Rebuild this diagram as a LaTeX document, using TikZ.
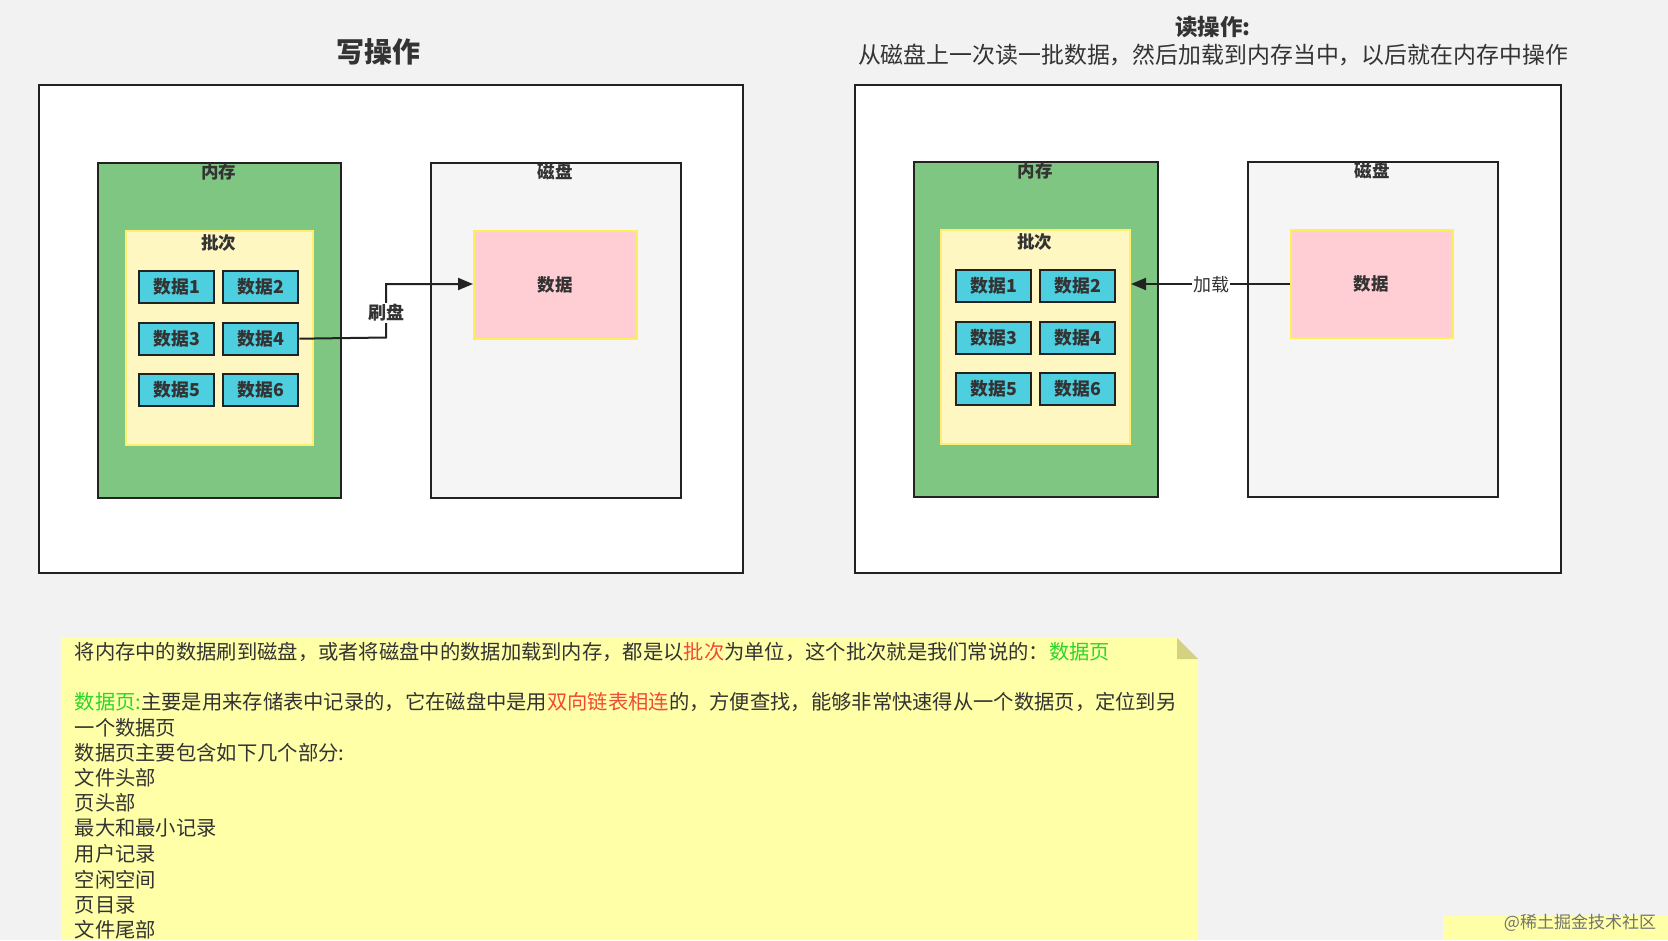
\documentclass[tikz,border=0pt]{standalone}
\usepackage{fontspec}
\setmainfont{Noto Sans CJK SC}
\usetikzlibrary{arrows.meta}
\definecolor{bg}{HTML}{F2F2F2}
\definecolor{ink}{HTML}{333333}
\definecolor{edge}{HTML}{222222}
\definecolor{memfill}{HTML}{80C683}
\definecolor{batchfill}{HTML}{FFF7C2}
\definecolor{batchedge}{HTML}{FFEE70}
\definecolor{datafill}{HTML}{4ECFE0}
\definecolor{diskfill}{HTML}{F5F5F5}
\definecolor{pinkfill}{HTML}{FFCDD4}
\definecolor{pinkedge}{HTML}{FFEE58}
\definecolor{notefill}{HTML}{FFFFA8}
\definecolor{notefold}{HTML}{D2D282}
\definecolor{txtred}{HTML}{F04A3A}
\definecolor{txtgreen}{HTML}{2BD62B}
\tikzset{
  panel/.style={draw=edge, line width=2pt, fill=white, anchor=north west, inner sep=0pt},
  membox/.style={draw=edge, line width=2.4pt, fill=memfill, anchor=north west, inner sep=0pt},
  diskbox/.style={draw=edge, line width=2.4pt, fill=diskfill, anchor=north west, inner sep=0pt},
  batchbox/.style={draw=batchedge, line width=2pt, fill=batchfill, anchor=north west, inner sep=0pt},
  pinkbox/.style={draw=pinkedge, line width=2pt, fill=pinkfill, anchor=north west, inner sep=0pt},
  databox/.style={draw=edge, line width=2.4pt, fill=datafill, anchor=north west, inner sep=0pt,
     minimum width=75pt, minimum height=32pt, text=ink, font=\bfseries\fontsize{17.8}{17.8}\selectfont},
  boxtitle/.style={text=ink, font=\bfseries\fontsize{17.5}{17.5}\selectfont, inner sep=0pt},
  conn/.style={draw=edge, line width=2pt, line join=miter, -{Triangle[length=15pt,width=12pt]}},
  bodytext/.style={anchor=west, text=ink, inner sep=0pt, font=\fontsize{20.3}{20.3}\selectfont},
}
\begin{document}
\begin{tikzpicture}[x=1pt,y=-1pt]
\fill[bg] (0,0) rectangle (1668,940);
\useasboundingbox (0,0) rectangle (1668,940);

% ---------------- titles ----------------
\node[text=ink, font=\bfseries\fontsize{28}{28}\selectfont, inner sep=0pt] (wtitle) at (378,52) {写操作};
\node[text=ink, font=\bfseries\fontsize{22.5}{22.5}\selectfont, inner sep=0pt] (rtitle) at (1213,27) {读操作:};
\node[text=ink, font=\fontsize{22.9}{22.9}\selectfont, inner sep=0pt] (rsub) at (1213,55) {从磁盘上一次读一批数据，然后加载到内存当中，以后就在内存中操作};

% ---------------- left panel ----------------
\node[panel, minimum width=704pt, minimum height=488pt] (lpanel) at (38,84) {};
\node[membox, minimum width=243pt, minimum height=335pt] (lmem) at (97,162) {};
\node[boxtitle] (lmemt) at (218.5,172) {内存};
\node[batchbox, minimum width=187pt, minimum height=214pt] (lbatch) at (125,230) {};
\node[boxtitle] (lbatcht) at (218.5,243) {批次};
\node[databox] (ld1) at (138,270) {数据1};
\node[databox] (ld2) at (222,270) {数据2};
\node[databox] (ld3) at (138,321.5) {数据3};
\node[databox] (ld4) at (222,321.5) {数据4};
\node[databox] (ld5) at (138,373) {数据5};
\node[databox] (ld6) at (222,373) {数据6};
\node[diskbox, minimum width=250pt, minimum height=335pt] (ldisk) at (430,162) {};
\node[boxtitle] (ldiskt) at (555,172) {磁盘};
\node[pinkbox, minimum width=163pt, minimum height=108pt] (lpink) at (473,230) {};
\node[boxtitle] (lpinkt) at (555,285) {数据};
\coordinate (lc1) at (386,337.5);
\coordinate (lc2) at (386,284);
\draw[conn] (ld4.east) -- (lc1) -- (lc2) -- (lpink.west |- lc2);
\node[fill=white, text=ink, font=\bfseries\fontsize{18}{18}\selectfont, inner sep=1pt] (flush) at (386,313) {刷盘};

% ---------------- right panel ----------------
\node[panel, minimum width=706pt, minimum height=488pt] (rpanel) at (854,84) {};
\node[membox, minimum width=244pt, minimum height=335pt] (rmem) at (913,161) {};
\node[boxtitle] (rmemt) at (1035,171) {内存};
\node[batchbox, minimum width=189pt, minimum height=214pt] (rbatch) at (940,229) {};
\node[boxtitle] (rbatcht) at (1034.5,242) {批次};
\node[databox] (rd1) at (955,269) {数据1};
\node[databox] (rd2) at (1039,269) {数据2};
\node[databox] (rd3) at (955,321) {数据3};
\node[databox] (rd4) at (1039,321) {数据4};
\node[databox] (rd5) at (955,372) {数据5};
\node[databox] (rd6) at (1039,372) {数据6};
\node[diskbox, minimum width=250pt, minimum height=335pt] (rdisk) at (1247,161) {};
\node[boxtitle] (rdiskt) at (1372,171) {磁盘};
\node[pinkbox, minimum width=162pt, minimum height=108pt] (rpink) at (1290,229) {};
\node[boxtitle] (rpinkt) at (1371,284) {数据};
\draw[conn] (rpink.west) -- (rpink.west -| rbatch.east);
\node[fill=white, text=ink, font=\fontsize{18}{18}\selectfont, inner sep=1pt] (load) at (1211,284.5) {加载};

% ---------------- note ----------------
\fill[notefill] (61,638) -- (1177,638) -- (1198,659) -- (1198,940) -- (61,940) -- cycle;
\fill[notefold] (1177,638) -- (1177,659) -- (1198,659) -- cycle;
\node[bodytext] (n1) at (74.5,652) {将内存中的数据刷到磁盘，或者将磁盘中的数据加载到内存，都是以\textcolor{txtred}{批次}为单位，这个批次就是我们常说的：\textcolor{txtgreen}{数据页}};
\node[bodytext] (n2) at (74.5,702) {\textcolor{txtgreen}{数据页:}主要是用来存储表中记录的，它在磁盘中是用\textcolor{txtred}{双向链表相连}的，方便查找，能够非常快速得从一个数据页，定位到另};
\node[bodytext] (n3) at (74.5,727.5) {一个数据页};
\node[bodytext] (n4) at (74.5,752.5) {数据页主要包含如下几个部分:};
\node[bodytext] (n5) at (74.5,777.5) {文件头部};
\node[bodytext] (n6) at (74.5,803) {页头部};
\node[bodytext] (n7) at (74.5,828) {最大和最小记录};
\node[bodytext] (n8) at (74.5,854) {用户记录};
\node[bodytext] (n9) at (74.5,879.5) {空闲空间};
\node[bodytext] (n10) at (74.5,905) {页目录};
\node[bodytext] (n11) at (74.5,930) {文件尾部};

% ---------------- corner note + watermark ----------------
\fill[notefill] (1443,916) rectangle (1668,940);
\node[text=black!55, font=\fontsize{17}{17}\selectfont, inner sep=0pt] (wm) at (1580,923) {@稀土掘金技术社区};
\end{tikzpicture}
\end{document}
